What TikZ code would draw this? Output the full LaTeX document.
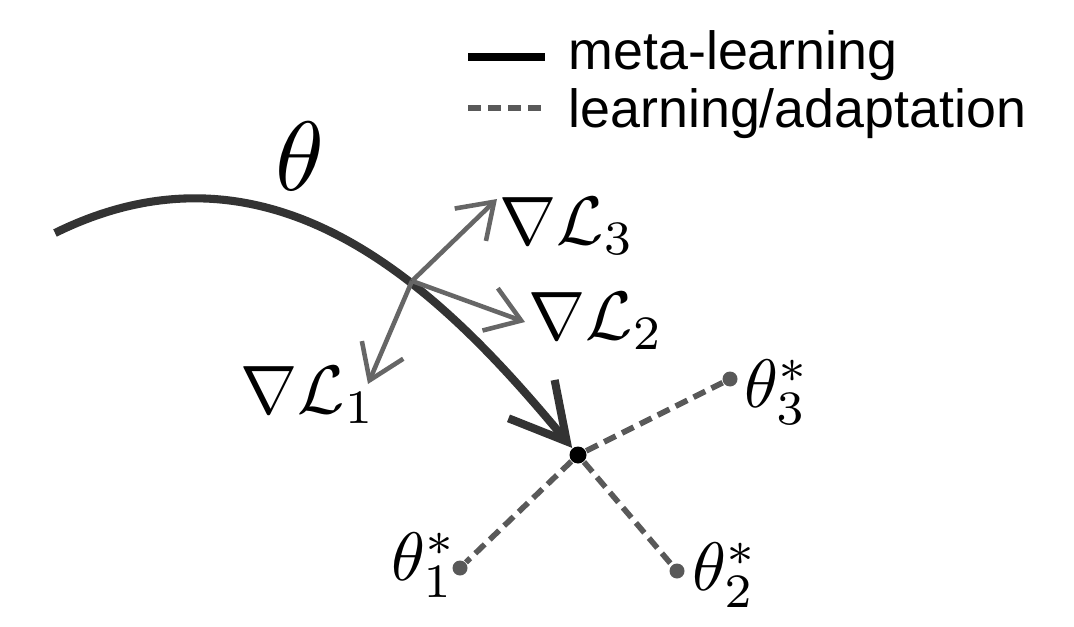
\documentclass[tikz,border=0pt]{standalone}
\usepackage{fontspec}
\setsansfont{Liberation Sans}
\usetikzlibrary{arrows.meta}
\definecolor{metagray}{gray}{0.2}
\definecolor{gradgray}{gray}{0.4}
\definecolor{adaptgray}{gray}{0.35}
\begin{document}
\begin{tikzpicture}[
  meta/.style={line width=2.3pt, metagray},
  grad/.style={line width=1.3pt, gradgray, -{Straight Barb[length=3.3mm,width=4.5mm]}},
  adapt/.style={line width=1.6pt, adaptgray, dash pattern=on 0.13cm off 0.07cm},
  lbl/.style={inner sep=0pt, scale=1.95},
  leg/.style={anchor=base west, inner sep=0pt, font=\sffamily\fontsize{15.3}{18}\selectfont}]
\useasboundingbox (0,0) rectangle (10.74,6.26);
\coordinate (s0) at (0.55,3.93);
\node[circle, inner sep=0pt, minimum size=0.17cm, fill] (th) at (5.78,1.71){};
\draw[meta, -{Straight Barb[length=5.5mm,width=6mm]}] (s0) .. controls (2.80,5.04) and (4.50,3.25) .. (th);
\node[inner sep=0pt, scale=2.8] (thl) at (3.00,4.70){$\theta$};
\coordinate (g) at (4.12,3.45);
\coordinate (g1) at (3.68,2.42);
\coordinate (g2) at (5.25,3.04);
\coordinate (g3) at (4.97,4.27);
\draw[grad](g) -- (g1);
\draw[grad](g) -- (g2);
\draw[grad](g) -- (g3);
\node[lbl] (n1) at (3.08,2.31){$\nabla\mathcal{L}_1$};
\node[lbl] (n2) at (5.96,3.05){$\nabla\mathcal{L}_2$};
\node[lbl] (n3) at (5.67,4.00){$\nabla\mathcal{L}_3$};
\node[circle, inner sep=0pt, minimum size=0.15cm, fill, adaptgray] (t1) at (4.60,0.58){};
\node[circle, inner sep=0pt, minimum size=0.15cm, fill, adaptgray] (t2) at (6.77,0.55){};
\node[circle, inner sep=0pt, minimum size=0.15cm, fill, adaptgray] (t3) at (7.30,2.47){};
\draw[adapt](th) -- (t1);
\draw[adapt](th) -- (t2);
\draw[adapt](th) -- (t3);
\node[lbl] (l1) at (4.24,0.61){$\theta_1^*$};
\node[lbl] (l2) at (7.25,0.51){$\theta_2^*$};
\node[lbl] (l3) at (7.77,2.34){$\theta_3^*$};
\coordinate (ma) at (4.68,5.69);
\coordinate (mb) at (5.45,5.69);
\coordinate (aa) at (4.68,5.18);
\coordinate (ab) at (5.45,5.18);
\draw[line width=2.5pt](ma) -- (mb);
\draw[adapt, line width=1.8pt](aa) -- (ab);
\node[leg] (tm) at (5.68,5.56){meta-learning};
\node[leg] (ta) at (5.68,4.98){learning/adaptation};
\end{tikzpicture}
\end{document}
